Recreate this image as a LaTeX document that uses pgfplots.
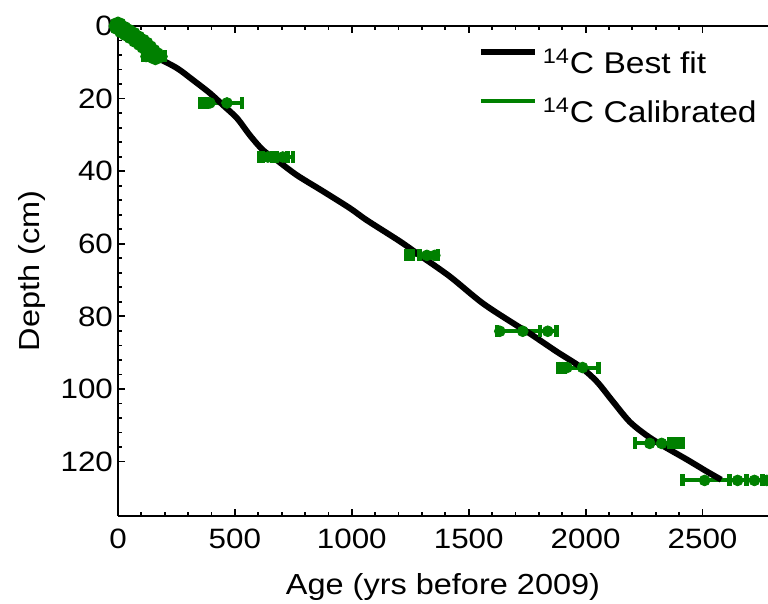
\documentclass[border=0pt]{standalone}
\usepackage{fontspec}
\setmainfont{Liberation Sans}[FakeStretch=1.12]
\usepackage{pgfplots}
\pgfplotsset{compat=1.18}
\definecolor{dgreen}{RGB}{0,128,0}
\begin{document}
\begin{tikzpicture}
\begin{axis}[
  scale only axis, width=325pt, height=245pt,
  xmin=0, xmax=2780, ymin=0, ymax=135, y dir=reverse,
  axis x line=box, axis y line=left,
  axis line style={-, line width=1pt, black},
  tick align=inside, major tick length=3.6pt, minor tick length=2.2pt,
  every tick/.style={black, line width=0.9pt},
  xtick={0,500,...,2500}, minor x tick num=4,
  ytick={0,20,...,120}, minor y tick num=4,
  tick label style={font=\fontsize{14}{17}\selectfont},
  /pgf/number format/assume math mode=true,
  /pgf/number format/1000 sep={},
  xticklabel style={yshift=-3pt},
  yticklabel style={xshift=1pt},
  clip=false,
  legend style={draw=none, fill=none, inner sep=0pt, outer sep=0pt,
    at={(axis cs:1539,6.0)}, anchor=north west, row sep=7.5pt,
    font=\fontsize{15}{18}\selectfont,
    nodes={inner sep=0pt, text height=13pt, text depth=4pt}},
  legend cell align=left,
  legend image code/.code={\draw[#1] (0pt,6.5pt) -- (27pt,6.5pt); \path[draw=none,fill=none] (0pt,0pt) rectangle (31pt,1pt);},
]
% calibrated 14C ranges (green)
\addplot[dgreen, line width=4pt, line cap=round, mark=*, mark size=2.6pt, forget plot] coordinates {
 (0,0) (20,1.0) (40,1.8) (60,2.6) (80,3.6) (100,4.5) (115,5.3) (130,6.3) (145,7.3) (160,8.2)};
\addplot[dgreen, line width=2pt, unbounded coords=jump, forget plot] coordinates {
 (107,8.4) (201,8.4) (nan,nan)
 (350,21.2) (530,21.2) (nan,nan)
 (603,36.1) (748,36.1) (nan,nan)
 (1231,63.2) (1368,63.2) (nan,nan)
 (1620,84.1) (1885,84.1) (nan,nan)
 (1881,94.1) (2060,94.1) (nan,nan)
 (2210,115.0) (2415,115.0) (nan,nan)
 (2415,125.2) (2780,125.2)};
\addplot[dgreen, only marks, mark=|, mark size=3pt, mark options={line width=2.2pt}, forget plot] coordinates {
 (107,8.4) (130,8.4) (150,8.4) (172,8.4) (201,8.4)
 (350,21.2) (365,21.2) (380,21.2) (530,21.2)
 (603,36.1) (620,36.1) (660,36.1) (680,36.1) (725,36.1) (748,36.1)
 (1231,63.2) (1245,63.2) (1260,63.2) (1290,63.2) (1368,63.2)
 (1620,84.1) (1804,84.1) (1876,84.1)
 (1881,94.1) (1895,94.1) (1910,94.1) (2055,94.1)
 (2210,115.0) (2359,115.0) (2375,115.0) (2395,115.0) (2415,115.0)
 (2415,125.2) (2616,125.2) (2688,125.2) (2757,125.2)};
\addplot[dgreen, only marks, mark=*, mark size=2.7pt, forget plot] coordinates {
 (120,8.4) (160,8.4) (188,8.4)
 (393,21.2) (466,21.2)
 (641,36.1) (705,36.1)
 (1321,63.2) (1355,63.2)
 (1633,84.1) (1731,84.1) (1838,84.1)
 (1920,94.1) (1987,94.1)
 (2274,115.0) (2325,115.0)
 (2509,125.2) (2650,125.2) (2722,125.2) (2775,125.2)};
% best fit
\addplot[black, line width=3pt, smooth, tension=0.5] coordinates {
 (140,7.6) (167,8.7) (252,11.6) (321,14.9) (393,18.5) (449,21.8) (509,25.4)
 (564,30.1) (620,34.2) (680,37.0) (765,41.1) (876,45.5) (992,50.2)
 (1064,53.5) (1205,59.3) (1291,63.2) (1419,69.0) (1560,76.4) (1705,82.5)
 (1761,84.7) (1876,89.7) (1975,93.8) (2047,97.9) (2116,103.4) (2188,109.0)
 (2261,112.8) (2329,115.6) (2432,119.4) (2520,122.8) (2580,125.0)};
\addlegendentry{\textsuperscript{14}C Best fit}
\addlegendimage{dgreen, line width=2pt}
\addlegendentry{\textsuperscript{14}C Calibrated}
\end{axis}
\node[anchor=base, font=\fontsize{14.5}{17}\selectfont] at (162.5pt,-39.5pt) {Age (yrs before 2009)};
\node[anchor=base, rotate=90, font=\fontsize{14.5}{17}\selectfont] at (-39.3pt,122.5pt) {Depth (cm)};
\pgfresetboundingbox
\path (-59pt,-44pt) rectangle (325pt,258pt);
\end{tikzpicture}
\end{document}
